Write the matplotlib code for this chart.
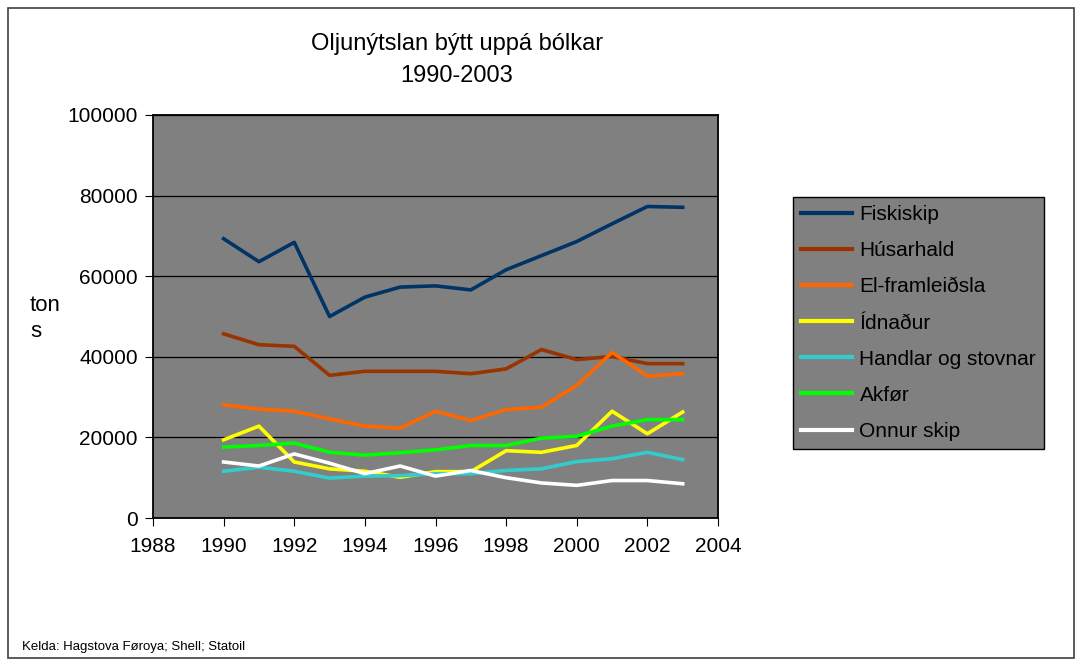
import matplotlib
matplotlib.use("Agg")
import matplotlib.pyplot as plt
from matplotlib.patches import Rectangle

plt.rcParams['font.family'] = ['Liberation Sans', 'DejaVu Sans']

years = list(range(1990, 2004))
fiskiskip = [69300, 63600, 68400, 50000, 54800, 57300, 57600, 56600, 61600, 65100, 68600, 73000, 77300, 77100]
husarhald = [45700, 43000, 42600, 35400, 36400, 36400, 36400, 35800, 37000, 41800, 39300, 40100, 38300, 38300]
el_framleidsla = [28100, 27000, 26500, 24600, 22800, 22300, 26500, 24200, 26900, 27500, 32900, 41100, 35200, 35800]
idnadur = [19400, 22800, 13900, 12200, 11600, 10100, 11500, 11500, 16700, 16300, 18000, 26500, 20900, 26300]
handlar = [11600, 12600, 11600, 9900, 10400, 10500, 11000, 11000, 11800, 12200, 14000, 14700, 16300, 14500]
akfor = [17600, 18000, 18600, 16300, 15600, 16200, 16900, 18000, 18000, 19800, 20300, 22800, 24400, 24400]
onnur_skip = [13900, 12900, 15900, 13600, 11000, 12900, 10400, 11800, 10000, 8700, 8100, 9300, 9300, 8500]

series = [
    ("Fiskiskip", fiskiskip, "#003366"),
    ("Húsarhald", husarhald, "#993300"),
    ("El-framleiðsla", el_framleidsla, "#FF6600"),
    ("Ídnaður", idnadur, "#FFFF00"),
    ("Handlar og stovnar", handlar, "#33CCCC"),
    ("Akfør", akfor, "#00FF00"),
    ("Onnur skip", onnur_skip, "#FFFFFF"),
]

W, H = 1083, 666
fig = plt.figure(figsize=(W / 100, H / 100), dpi=100)

# outer chart border
fig.patches.append(Rectangle((8 / W, 8 / H), 1066 / W, 650 / H, transform=fig.transFigure,
                             fill=False, edgecolor="#404040", linewidth=1.2))

ax = fig.add_axes([153 / W, 1 - 518 / H, 565 / W, 403 / H])
ax.set_facecolor("#808080")

for name, vals, col in series:
    ax.plot(years, vals, color=col, linewidth=2.6, label=name)

ax.set_xlim(1988, 2004)
ax.set_ylim(0, 100000)
ax.set_xticks(range(1988, 2005, 2))
ax.set_yticks(range(0, 100001, 20000))
ax.yaxis.grid(True, color="black", linewidth=0.9)
ax.set_axisbelow(True)
ax.tick_params(labelsize=15, direction="out", length=6, color="black")
ax.tick_params(axis="x", pad=8)
ax.tick_params(axis="y", pad=5)
for s in ax.spines.values():
    s.set_color("black")
    s.set_linewidth(1.3)

fig.text(457 / W, 1 - 50 / H, "Oljunýtslan býtt uppá bólkar", ha="center", va="baseline", fontsize=17)
fig.text(457 / W, 1 - 82 / H, "1990-2003", ha="center", va="baseline", fontsize=17)
fig.text(30 / W, 1 - 311 / H, "ton", ha="left", va="baseline", fontsize=16)
fig.text(30 / W, 1 - 337 / H, "s", ha="left", va="baseline", fontsize=16)
fig.text(22 / W, 1 - 647 / H, "Kelda: Hagstova Føroya; Shell; Statoil", ha="left", va="center", fontsize=9.5)

leg = fig.legend(loc="upper left", bbox_to_anchor=(793 / W, 1 - 197 / H), fontsize=15,
                 frameon=True, fancybox=False, handlelength=2.45, handletextpad=0.34,
                 labelspacing=0.82, borderpad=0.4, borderaxespad=0)
leg.get_frame().set_facecolor("#808080")
leg.get_frame().set_edgecolor("black")
leg.get_frame().set_alpha(1)
for line in leg.get_lines():
    line.set_linewidth(3)

fig.savefig("out.png", dpi=100)
